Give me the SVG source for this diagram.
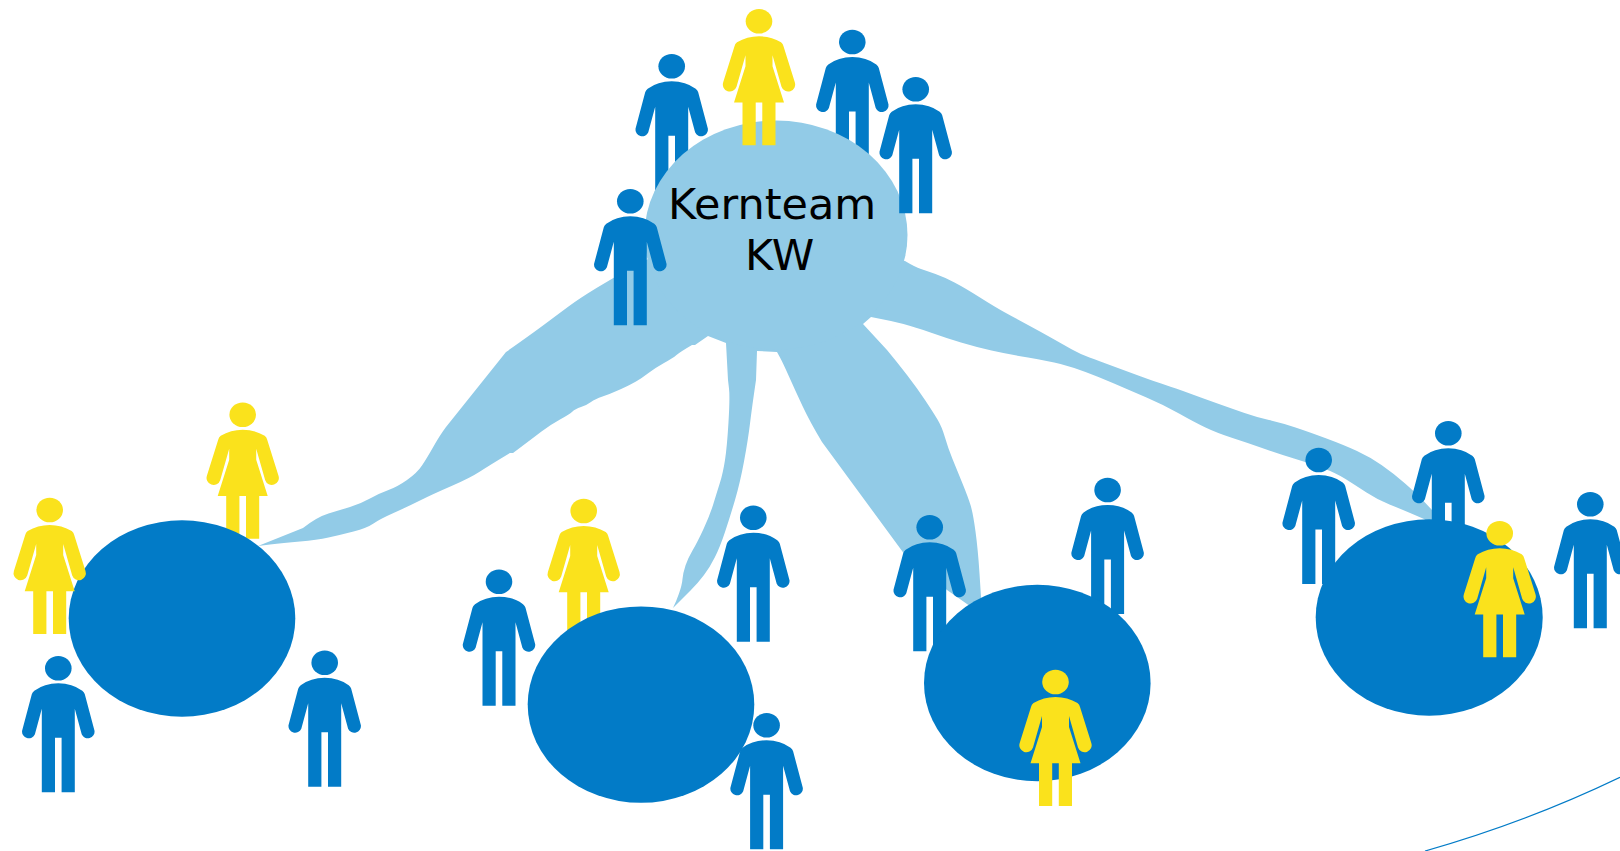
<svg xmlns="http://www.w3.org/2000/svg" width="1620" height="851" viewBox="0 0 1620 851">
<style>
.b{fill:#027bc7}.y{fill:#fae21c}.l{fill:#92cbe7}
text{font-family:"DejaVu Sans",sans-serif;font-size:43px;fill:#000}
</style>
<defs>
<g id="man"><ellipse cx="0" cy="0" rx="13.3" ry="12.3"/><path d="M-16.5 124V40.5L-23.4 66A6.7 6.7 0 0 1-36.2 62.5L-26.5 26Q-26 24-24 22.5Q-14 15 0 15Q14 15 24 22.5Q26 24 26.5 26L36.2 62.5A6.7 6.7 0 0 1 23.4 66L16.5 40.5V124H3.3V69.5H-3.3V124Z"/></g>
<g id="woman"><ellipse cx="0" cy="0" rx="13.3" ry="12.3"/><path d="M-16.5 124V81.3H-25L-13.5 45V34L-22.5 65.5A6.7 6.7 0 0 1-35.8 61L-24.5 25Q-24 22.5-22 21Q-12 15 0 15Q12 15 22 21Q24 22.5 24.5 25L35.8 61A6.7 6.7 0 0 1 22.5 65.5L13.5 34V45L25 81.3H16.5V124H3.3V81.3H-3.3V124Z"/></g>
</defs>
<rect width="1620" height="851" fill="#fff"/>
<g id="p-core-1"><use href="#man" class="b" x="671.7" y="66.3"/></g>
<g id="p-core-2"><use href="#man" class="b" x="852.3" y="42"/></g>
<g id="connectors">
<path class="l" d="M258 546L303 528Q317 517 328.5 513.5Q340 510 350 507Q360 504 370 498.5Q380 493 388.5 490Q397 487 407 480Q417 473 422 465.5Q427 458 433.5 446.5Q440 435 446 427L506 352Q533 333 545 324Q557 315 568.5 306.5Q580 298 596.5 288Q613 278 631 268L650 258L776 235L905 261Q915 267 921 269Q927 271 935.5 274Q944 277 954.5 282.5Q965 288 980 297.5Q995 307 1005 312.5Q1015 318 1028 325Q1041 332 1052.5 338.5Q1064 345 1072 349.5Q1080 354 1089.5 357.5Q1099 361 1112.5 366Q1126 371 1141 376.5Q1156 382 1165.5 385Q1175 388 1188.5 393Q1202 398 1217.5 403.5Q1233 409 1244.5 413Q1256 417 1269 420Q1282 423 1295.5 427.5Q1309 432 1326.5 438.5Q1344 445 1357 451Q1370 457 1381.5 465Q1393 473 1404.5 483Q1416 493 1424 501.5L1432 510L1432 525L1424 519Q1401 509 1389.5 504.5Q1378 500 1366.5 492.5Q1355 485 1345.5 479Q1336 473 1322.5 468Q1309 463 1294 458.5Q1279 454 1263.5 448.5Q1248 443 1232.5 438Q1217 433 1205.5 427.5Q1194 422 1179 413.5Q1164 405 1146.5 397.5Q1129 390 1114 383.5Q1099 377 1085.5 372Q1072 367 1060.5 364Q1049 361 1028 357.5Q1007 354 991.5 350.5Q976 347 961 342.5Q946 338 930.5 332.5Q915 327 903.5 324Q892 321 881 319L871 317L863 324L887 350Q897 362 907 375Q917 388 925 400Q933 412 937.5 419.5Q942 427 945 437.5Q948 448 952.5 459Q957 470 962.5 483.5Q968 497 970.5 505Q973 513 975.5 531.5Q978 550 979.5 573.5L981 597L990 620L967 604L947 590L905 555L822 442Q810 422 802.5 406Q795 390 789 376.5Q783 363 780 357.5L777 352L757 351L756 380Q752 407 750 423.5Q748 440 744 461.5Q740 483 735 500Q730 517 725 532Q720 547 715 557Q710 567 704 575Q698 583 690.5 590.5L673 608Q676 602 679 593.5Q682 585 682.5 579Q683 573 685.5 565.5Q688 558 692.5 550.5Q697 543 703.5 529Q710 515 713.5 503.5Q717 492 720 482.5Q723 473 725 460Q727 447 728.5 422Q730 397 729 388.5L728 380L726 343L708 336L695 345L692 345Q680 352 676.5 355Q673 358 664 363Q655 368 648.5 373Q642 378 636 381.5Q630 385 620 389.5Q610 394 602.5 396.5Q595 399 591 402Q587 405 581 407Q575 409 572.5 411.5Q570 414 560 419.5Q550 425 541.5 431.5Q533 438 523 445.5L513 453L510 453Q490 465 480 471.5Q470 478 451.5 486Q433 494 420 500.5Q407 507 393.5 513Q380 519 373.5 523.5Q367 528 353.5 531.5Q340 535 328.5 537.5Q317 540 300 541.5Q283 543 270 544.5Z"/>
<path fill="none" stroke="#027bc7" stroke-width="1.2" d="M1425 851Q1527 822 1620 777.3"/>
</g>
<g id="core"><ellipse class="l" cx="776" cy="235" rx="131.5" ry="114.5"/><text x="668" y="218.5">Kernteam</text><text x="745" y="269.5">KW</text></g>
<g id="p-core-3"><use href="#woman" class="y" x="759" y="21.3"/></g>
<g id="p-core-4"><use href="#man" class="b" x="915.7" y="89.3"/></g>
<g id="p-core-5"><use href="#man" class="b" x="630.3" y="201.3"/></g>
<g id="p-a-1"><use href="#woman" class="y" x="242.7" y="414.7"/></g>
<g id="team-a"><ellipse class="b" cx="182" cy="618.5" rx="113.3" ry="98.2"/></g>
<g id="p-a-2"><use href="#woman" class="y" x="49.7" y="510"/></g>
<g id="p-a-3"><use href="#man" class="b" x="58.3" y="668.3"/></g>
<g id="p-a-4"><use href="#man" class="b" x="324.7" y="662.7"/></g>
<g id="p-b-1"><use href="#woman" class="y" x="583.7" y="511"/></g>
<g id="p-b-2"><use href="#man" class="b" x="499" y="581.7"/></g>
<g id="p-b-3"><use href="#man" class="b" x="753.3" y="517.7"/></g>
<g id="team-b"><ellipse class="b" cx="641" cy="704.6" rx="113.3" ry="98.2"/></g>
<g id="p-b-4"><use href="#man" class="b" x="766.6" y="725.3"/></g>
<g id="p-c-1"><use href="#man" class="b" x="929.7" y="527.3"/></g>
<g id="p-c-2"><use href="#man" class="b" x="1107.6" y="490"/></g>
<g id="team-c"><ellipse class="b" cx="1037.3" cy="683" rx="113.3" ry="98.2"/></g>
<g id="p-c-3"><use href="#woman" class="y" x="1055.5" y="682"/></g>
<g id="p-d-1"><use href="#man" class="b" x="1318.7" y="460"/></g>
<g id="p-d-2"><use href="#man" class="b" x="1448.3" y="433.3"/></g>
<g id="p-d-3"><use href="#man" class="b" x="1590.3" y="504.3"/></g>
<g id="team-d"><ellipse class="b" cx="1429.2" cy="617.5" rx="113.5" ry="98.2"/></g>
<g id="p-d-4"><use href="#woman" class="y" x="1499.7" y="533.3"/></g>
</svg>
